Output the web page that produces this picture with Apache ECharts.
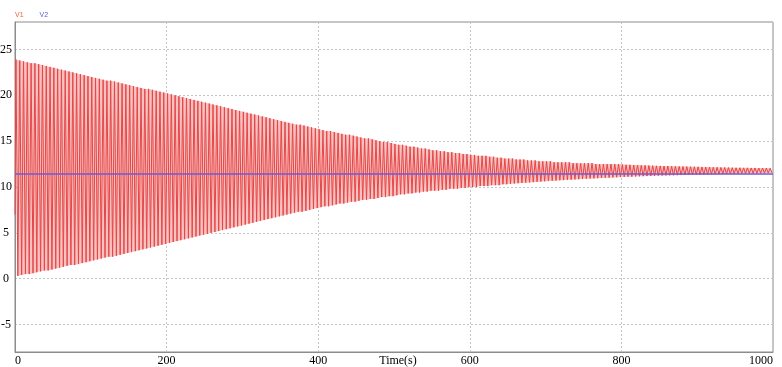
<!DOCTYPE html>
<html>
<head>
<meta charset="utf-8">
<script src="https://cdn.jsdelivr.net/npm/echarts@6/dist/echarts.min.js"></script>
<style>html,body{margin:0;padding:0;background:#fff}#c{width:782px;height:367px}</style>
</head>
<body>
<div id="c"></div>
<script>
// ---- data ----
var seriesNames = ['V1', 'V2'];
var xTicks = [0, 200, 400, 600, 800, 1000];
var yTicks = [-5, 0, 5, 10, 15, 20, 25];
var cyclePeriod = 5; // seconds per oscillation cycle
var v1Start = 7.0;   // value of V1 at t = 0
// V1 local maxima, one per cycle
var v1Peaks = [
  23.9,23.8,23.7,23.6,23.5,23.5,23.4,23.3,23.2,23.1,
  23.0,22.9,22.8,22.7,22.6,22.5,22.4,22.3,22.2,22.1,
  22.0,21.9,21.8,21.7,21.6,21.6,21.5,21.4,21.3,21.2,
  21.1,21.0,20.9,20.8,20.7,20.7,20.6,20.5,20.4,20.3,
  20.2,20.1,20.0,19.9,19.8,19.7,19.6,19.5,19.4,19.3,
  19.2,19.1,19.0,18.9,18.8,18.7,18.6,18.5,18.4,18.3,
  18.2,18.1,18.0,17.9,17.8,17.7,17.6,17.5,17.4,17.3,
  17.2,17.1,17.0,16.9,16.8,16.8,16.7,16.6,16.5,16.4,
  16.3,16.2,16.1,16.1,16.0,15.9,15.8,15.7,15.7,15.6,
  15.5,15.4,15.3,15.3,15.2,15.1,15.0,14.9,14.9,14.8,
  14.7,14.6,14.6,14.5,14.4,14.4,14.3,14.2,14.2,14.1,
  14.0,14.0,13.9,13.9,13.8,13.8,13.7,13.7,13.6,13.6,
  13.5,13.5,13.4,13.4,13.4,13.3,13.3,13.2,13.2,13.1,
  13.1,13.1,13.0,13.0,13.0,12.9,12.9,12.9,12.8,12.8,
  12.8,12.8,12.7,12.7,12.7,12.7,12.7,12.6,12.6,12.6,
  12.6,12.6,12.6,12.5,12.5,12.5,12.5,12.5,12.5,12.5,
  12.45,12.43,12.42,12.40,12.39,12.37,12.36,12.34,12.33,12.31,
  12.30,12.29,12.28,12.27,12.26,12.25,12.24,12.23,12.22,12.21,
  12.20,12.19,12.18,12.17,12.16,12.15,12.14,12.13,12.12,12.11,
  12.10,12.10,12.09,12.09,12.08,12.08,12.07,12.07,12.06,12.05
];
// V1 local minima, one per cycle
var v1Troughs = [
  0.3,0.4,0.5,0.5,0.6,0.7,0.8,0.9,0.9,1.0,
  1.1,1.2,1.3,1.4,1.5,1.5,1.6,1.7,1.8,1.9,
  2.0,2.1,2.2,2.3,2.4,2.4,2.5,2.6,2.7,2.8,
  2.9,3.0,3.1,3.2,3.3,3.4,3.5,3.6,3.7,3.8,
  3.9,4.0,4.1,4.2,4.3,4.4,4.5,4.6,4.7,4.8,
  4.9,5.0,5.1,5.2,5.3,5.4,5.5,5.6,5.7,5.8,
  5.9,6.0,6.1,6.2,6.3,6.4,6.5,6.6,6.7,6.8,
  6.9,7.0,7.1,7.2,7.3,7.3,7.4,7.5,7.6,7.7,
  7.8,7.9,7.9,8.0,8.1,8.2,8.2,8.3,8.4,8.4,
  8.5,8.6,8.6,8.7,8.7,8.8,8.9,8.9,9.0,9.0,
  9.1,9.2,9.2,9.3,9.3,9.4,9.4,9.5,9.5,9.6,
  9.6,9.6,9.7,9.7,9.8,9.8,9.8,9.9,9.9,10.0,
  10.0,10.0,10.1,10.1,10.1,10.2,10.2,10.2,10.3,10.3,
  10.35,10.38,10.41,10.44,10.47,10.50,10.53,10.56,10.59,10.62,
  10.65,10.68,10.70,10.73,10.75,10.78,10.80,10.83,10.85,10.88,
  10.90,10.92,10.94,10.96,10.98,11.00,11.02,11.04,11.06,11.08,
  11.10,11.12,11.13,11.15,11.16,11.18,11.19,11.21,11.22,11.24,
  11.25,11.26,11.27,11.28,11.29,11.30,11.31,11.32,11.33,11.34,
  11.35,11.36,11.37,11.38,11.39,11.40,11.41,11.42,11.43,11.44,
  11.45,11.46,11.47,11.48,11.49,11.50,11.51,11.52,11.53,11.54
];
var v2Times = [0, 1000];
var v2Values = [11.42, 11.42];

// ---- build series data ----
var v1Data = [[0, v1Start]];
var upperEnv = [], lowerEnv = [];
for (var k = 0; k < v1Peaks.length; k++) {
  var tp = k * cyclePeriod + cyclePeriod * 0.25;
  var tt = k * cyclePeriod + cyclePeriod * 0.75;
  v1Data.push([tp, v1Peaks[k]]);
  v1Data.push([tt, v1Troughs[k]]);
  upperEnv.push([tp, v1Peaks[k]]);
  lowerEnv.push([tt, v1Troughs[k]]);
}
var v2Data = v2Times.map(function (t, i) { return [t, v2Values[i]]; });

var serif = '"Liberation Serif", "Times New Roman", serif';
var chart = echarts.init(document.getElementById('c'), null, {renderer: 'canvas'});
chart.setOption({
  animation: false,
  backgroundColor: '#fff',
  legend: {
    left: 4, top: 7,
    itemWidth: 0, itemHeight: 0, itemGap: 10,
    textStyle: {fontSize: 7, fontFamily: 'Arial, sans-serif'},
    data: [
      {name: seriesNames[0], textStyle: {color: '#e8603c'}},
      {name: seriesNames[1], textStyle: {color: '#5b5bd6'}}
    ]
  },
  grid: {left: 15, right: 9, top: 22, bottom: 15, show: true, borderColor: '#8c8c8c', borderWidth: 1,
    containLabel: false, outerBoundsMode: 'none'},
  xAxis: {
    type: 'value', min: 0, max: 1000, interval: 200,
    name: 'Time(s)', nameLocation: 'middle', nameGap: 3, nameMoveOverlap: false,
    nameTextStyle: {fontFamily: serif, fontSize: 12, color: '#000', verticalAlign: 'top', padding: [0, 0, 0, 8]},
    axisLine: {show: true, onZero: false, lineStyle: {color: '#8c8c8c'}},
    axisTick: {show: false},
    axisLabel: {fontFamily: serif, fontSize: 12, color: '#000', margin: 3, alignMinLabel: 'left', alignMaxLabel: 'right',
      padding: [0, 0, 0, 0],
      formatter: function (v) { return xTicks.indexOf(v) >= 0 ? String(v) : ''; }},
    splitLine: {show: true, lineStyle: {color: '#c4c4c4', type: [2, 2], width: 1}}
  },
  yAxis: {
    type: 'value', min: -8, max: 28, splitNumber: 7,
    axisLine: {show: true, onZero: false, lineStyle: {color: '#8c8c8c'}},
    axisTick: {show: false},
    axisLabel: {fontFamily: serif, fontSize: 12, color: '#000', margin: 9, align: 'center',
      showMinLabel: false, showMaxLabel: false,
      formatter: function (v) { return yTicks.indexOf(v) >= 0 ? String(v) : ''; }},
    splitLine: {show: true, lineStyle: {color: '#c4c4c4', type: [2, 2], width: 1}}
  },
  series: [
    {name: 'band', type: 'custom', silent: true, z: 1, clip: true,
      data: [0],
      renderItem: function (params, api) {
        var pts = [];
        for (var i = 0; i < upperEnv.length; i++) pts.push(api.coord(upperEnv[i]));
        for (var j = lowerEnv.length - 1; j >= 0; j--) pts.push(api.coord(lowerEnv[j]));
        return {type: 'polygon', shape: {points: pts}, style: {fill: '#f7c2c2'}, silent: true};
      }},
    {name: seriesNames[0], type: 'line', data: v1Data, showSymbol: false, symbol: 'none',
      lineStyle: {color: '#e84646', width: 1}, itemStyle: {color: '#e84646'}, z: 2},
    {name: seriesNames[1], type: 'line', data: v2Data, showSymbol: false, symbol: 'none',
      lineStyle: {color: '#6b5bd6', width: 1.5}, itemStyle: {color: '#6b5bd6'}, z: 3}
  ]
});
</script>
</body>
</html>
